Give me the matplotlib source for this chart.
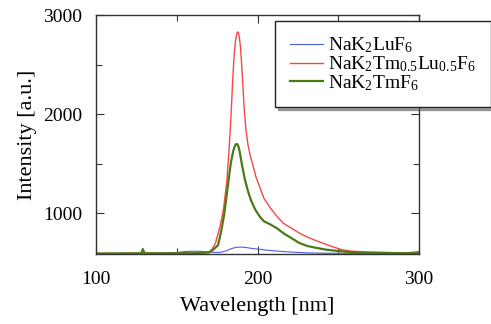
import matplotlib
matplotlib.use("Agg")
import matplotlib.pyplot as plt
from matplotlib.ticker import MultipleLocator

plt.rcParams['font.family'] = ['Liberation Serif', 'DejaVu Serif']
plt.rcParams['mathtext.fontset'] = 'custom'
plt.rcParams['mathtext.rm'] = 'Liberation Serif'
plt.rcParams['mathtext.it'] = 'Liberation Serif:italic'
plt.rcParams['mathtext.bf'] = 'Liberation Serif:bold'

labels = [r'NaK$_2$LuF$_6$', r'NaK$_2$Tm$_{0.5}$Lu$_{0.5}$F$_6$', r'NaK$_2$TmF$_6$']
colors = ['#4a5fe0', '#f44848', '#4b7a12']

blue_x = [100, 140, 150, 155, 160, 165, 170, 175, 178, 181, 184, 187, 190, 193, 197, 200, 205, 210, 220, 230, 240, 260, 300]
blue_y = [595, 597, 605, 615, 618, 617, 610, 605, 610, 625, 645, 658, 660, 655, 645, 640, 630, 622, 610, 602, 598, 596, 597]

red_x = [100, 150, 165, 170, 172, 174, 175, 176.5, 178, 179, 181, 182.5, 183.6, 184.6, 185.4, 186.2, 187, 187.6,
         188.2, 188.8, 189.5, 190.2, 190.8, 191.8, 192.8, 194, 195.4, 197.4, 199, 201.5, 204, 207.7, 212, 216, 221,
         226, 231, 237, 242, 247, 252, 257, 265, 278, 285, 290, 295, 300]
red_y = [595, 596, 598, 610, 640, 700, 760, 850, 960, 1050, 1320, 1670, 1980, 2330, 2560, 2720, 2800, 2830,
         2820, 2770, 2670, 2500, 2330, 2050, 1850, 1700, 1590, 1470, 1370, 1260, 1150, 1060, 970, 900, 850,
         800, 760, 720, 690, 660, 635, 620, 612, 607, 603, 603, 605, 615]

green_x = [100, 128, 129, 130, 160, 170, 173, 175.6, 177.5, 179.3, 181.9, 183.4, 185, 186, 186.6, 187.1, 187.6,
           188.2, 189, 190.5, 192.2, 194, 196, 198.5, 201.5, 204, 207.7, 212, 216, 221, 226, 231, 237, 242, 247,
           257, 270, 300]
green_y = [595, 597, 640, 597, 598, 605, 640, 680, 820, 980, 1310, 1500, 1630, 1680, 1695, 1700, 1695,
           1675, 1620, 1480, 1340, 1230, 1130, 1040, 965, 920, 890, 850, 800, 750, 700, 670, 650, 635, 625,
           610, 600, 598]

fig = plt.figure(figsize=(4.91, 3.24), dpi=100)
ax = fig.add_axes([96/491, 1-254/324, (419-96)/491, (254-15)/324])

ax.plot(blue_x, blue_y, color=colors[0], lw=0.8, label=labels[0])
ax.plot(red_x, red_y, color=colors[1], lw=1.0, label=labels[1])
ax.plot(green_x, green_y, color=colors[2], lw=1.6, label=labels[2])

ax.set_xlim(100, 300)
ax.set_ylim(590, 3000)
ax.xaxis.set_major_locator(MultipleLocator(100))
ax.xaxis.set_minor_locator(MultipleLocator(50))
ax.set_yticks([1000, 2000, 3000])
ax.yaxis.set_minor_locator(MultipleLocator(500))
ax.tick_params(which='both', direction='in', top=True, right=True, color='#333333')
ax.tick_params(which='major', length=6, width=0.8)
ax.tick_params(which='minor', length=4, width=0.8)
ax.tick_params(axis='x', labelsize=14, pad=12)
ax.tick_params(axis='y', labelsize=14, pad=10)
for s in ax.spines.values():
    s.set_color('#333333')
    s.set_linewidth(1.0)

ax.set_xlabel('Wavelength [nm]', fontsize=16, labelpad=7)
ax.set_ylabel('Intensity [a.u.]', fontsize=16, labelpad=4)

leg = ax.legend(loc='upper left', bbox_to_anchor=(275/491, 1-21/324), bbox_transform=fig.transFigure,
                fontsize=14, frameon=True, fancybox=False, shadow=True, handlelength=1.7,
                handletextpad=0.3, labelspacing=-0.05, borderpad=0.75, borderaxespad=0)
leg.get_frame().set_edgecolor('#222222')
leg.get_frame().set_linewidth(1.0)

fig.savefig('out.png', dpi=100)
